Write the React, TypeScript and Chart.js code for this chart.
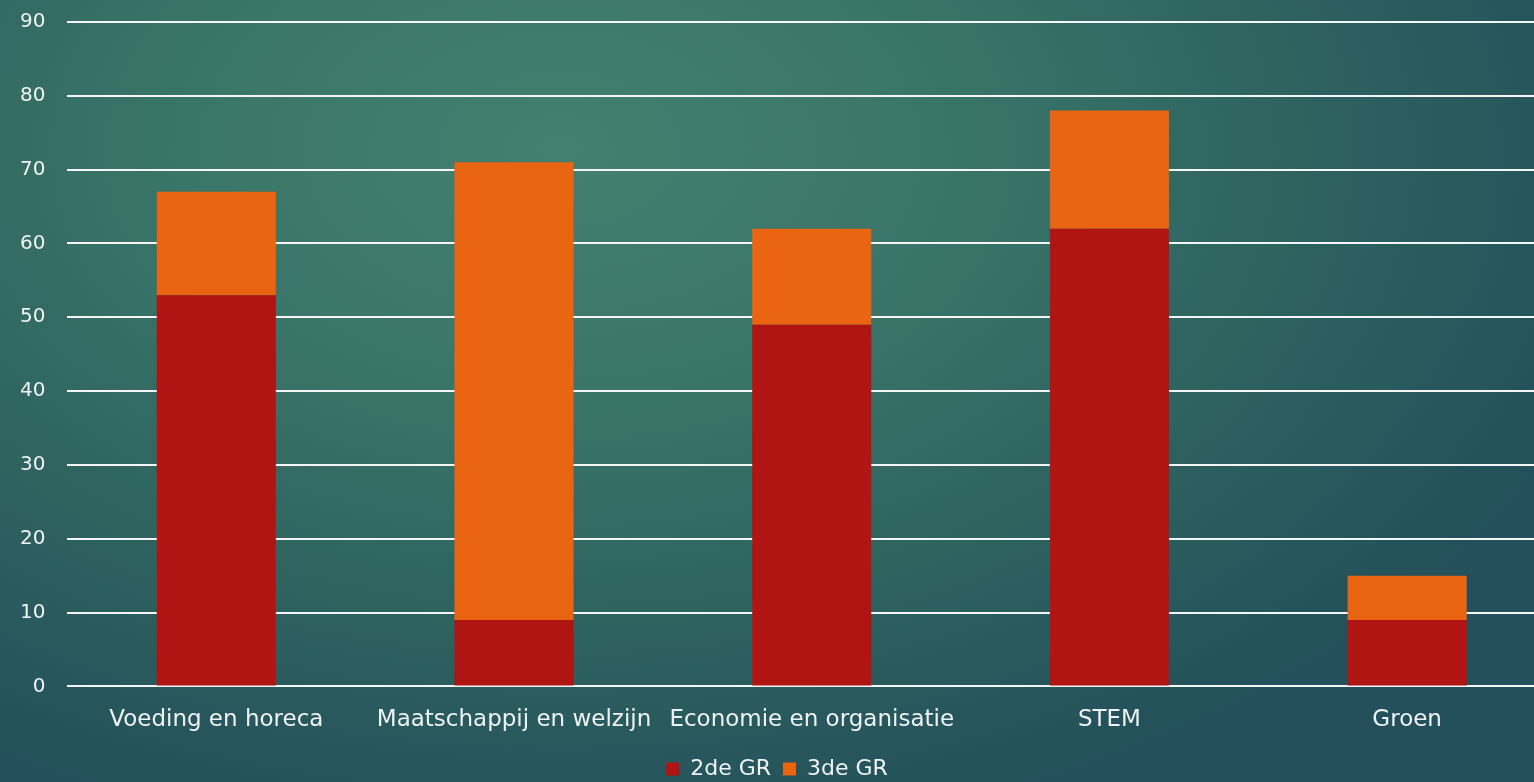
import React, { useEffect, useRef } from "react";
import { Chart, registerables } from "chart.js";

Chart.register(...registerables);

const categories = [
  "Voeding en horeca",
  "Maatschappij en welzijn",
  "Economie en organisatie",
  "STEM",
  "Groen",
];
const seriesNames = ["2de GR", "3de GR"];
const tweedeGR = [53, 9, 49, 62, 9];
const derdeGR = [14, 62, 13, 16, 6];
const yTicks = [0, 10, 20, 30, 40, 50, 60, 70, 80, 90];

export default function App() {
  const ref = useRef<HTMLCanvasElement | null>(null);
  useEffect(() => {
    document.body.style.margin = "0";
    document.body.style.overflow = "hidden";
    const font = "'DejaVu Sans', sans-serif";
    const chart = new Chart(ref.current!, {
      type: "bar",
      data: {
        labels: categories,
        datasets: [
          { label: seriesNames[0], data: tweedeGR, backgroundColor: "#b01513", borderWidth: 0 },
          { label: seriesNames[1], data: derdeGR, backgroundColor: "#ea6512", borderWidth: 0 },
        ],
      },
      options: {
        animation: false,
        responsive: false,
        maintainAspectRatio: false,
        layout: { padding: { left: 12, top: 0, right: 0, bottom: 0 } },
        datasets: { bar: { barPercentage: 0.4, categoryPercentage: 1 } },
        plugins: {
          tooltip: { enabled: false },
          legend: {
            position: "bottom",
            labels: {
              color: "#eef2f2",
              font: { family: font, size: 22 },
              boxWidth: 13,
              boxHeight: 13,
              padding: 12,
            },
          },
        },
        scales: {
          x: {
            stacked: true,
            grid: { display: false },
            border: { display: false },
            ticks: { color: "#eef2f2", font: { family: font, size: 23 }, padding: 12, maxRotation: 0, autoSkip: false },
          },
          y: {
            stacked: true,
            min: 0,
            max: 90,
            afterBuildTicks: (axis: any) => {
              axis.ticks = yTicks.map((v) => ({ value: v }));
            },
            grid: { color: "#f4f6f6", lineWidth: 2, drawTicks: false },
            border: { display: false },
            ticks: { color: "#eef2f2", font: { family: font, size: 20 }, padding: 22 },
          },
        },
      },
    });
    return () => chart.destroy();
  }, []);
  return (
    <div
      style={{
        position: "absolute",
        left: 0,
        top: 0,
        width: 1534,
        height: 782,
        overflow: "hidden",
        background:
          "radial-gradient(ellipse 1100px 700px at 560px 150px, #44806f 0%, #3a7569 35%, #2d615f 70%, #23505a 100%)",
      }}
    >
      <canvas
        ref={ref}
        width={1570}
        height={802}
        style={{ display: "block", position: "absolute", left: -14, top: -12 }}
      />
    </div>
  );
}
